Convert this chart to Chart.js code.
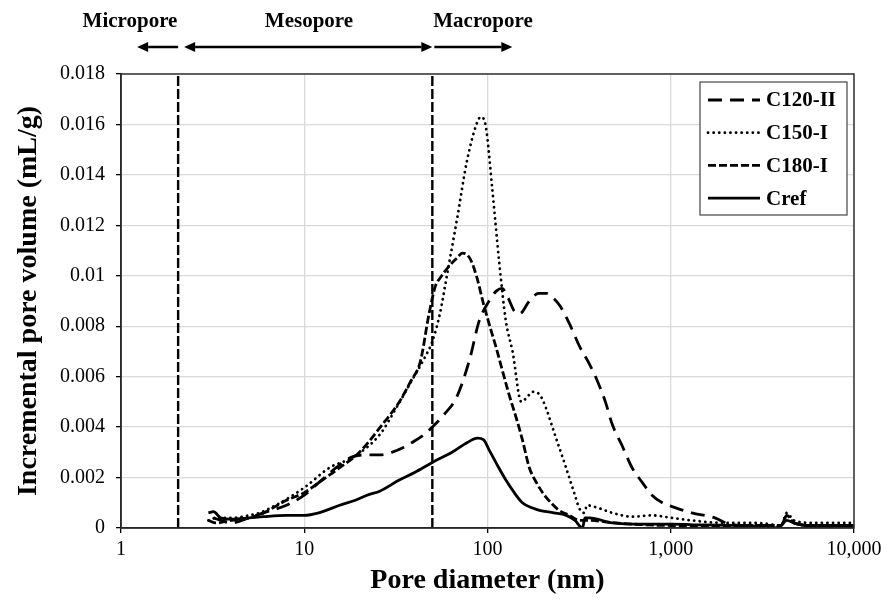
<!DOCTYPE html>
<html>
<head>
<meta charset="utf-8">
<script src="https://cdn.jsdelivr.net/npm/chart.js@4.4.1/dist/chart.umd.min.js"></script>
<style>
  html, body { margin: 0; padding: 0; background: #fff; }
  #wrap { width: 887px; height: 604px; }
</style>
</head>
<body>
<div id="wrap"><canvas id="poreChart" width="887" height="604"></canvas></div>
<script>
// pore diameter (nm) and incremental pore volume (mL/g)
const c120Diam = [3.2, 3.5, 4, 5, 6, 8, 10, 12, 15, 18, 22, 26, 30, 35, 39, 45, 50, 58, 68, 80, 90, 102, 112, 120, 130, 140, 150, 169, 190, 210, 230, 249, 280, 318, 360, 394, 440, 480, 540, 614, 700, 790, 900, 1065, 1300, 1740, 2000, 2500, 3500, 4000, 4300, 4700, 6000, 10000];
const c120Vol  = [0.0004, 0.0003, 0.0002, 0.0004, 0.0006, 0.0009, 0.0013, 0.0018, 0.0024, 0.0028, 0.0029, 0.0029, 0.003, 0.0032, 0.0034, 0.0037, 0.004, 0.0045, 0.0052, 0.0067, 0.0082, 0.009, 0.0094, 0.0095, 0.0091, 0.0086, 0.0085, 0.009, 0.0093, 0.0093, 0.0091, 0.0088, 0.0081, 0.0072, 0.0065, 0.0059, 0.005, 0.0041, 0.0033, 0.0024, 0.0018, 0.0013, 0.001, 0.0008, 0.0006, 0.0004, 0.0002, 0.0001, 0.0001, 0.0001, 0.0005, 0.0002, 0.0001, 0.0001];

const c150Diam = [3.0, 3.3, 4, 5, 5.7, 7.4, 10, 13.8, 18.4, 25.8, 32, 39, 45, 50, 55, 60, 68, 77, 87, 92, 98, 106, 116, 126, 137, 153, 165, 176, 192, 210, 226, 268, 300, 316, 336, 350, 400, 480, 612, 790, 1015, 1300, 2000, 3000, 4000, 4300, 4700, 6000, 10000];
const c150Vol  = [0.0003, 0.0004, 0.0004, 0.0005, 0.0006, 0.001, 0.0016, 0.0024, 0.0028, 0.0037, 0.0048, 0.0059, 0.0067, 0.0074, 0.0085, 0.01, 0.0122, 0.0145, 0.016, 0.0163, 0.0159, 0.0135, 0.0105, 0.0082, 0.007, 0.005, 0.0052, 0.0054, 0.0053, 0.0047, 0.004, 0.0024, 0.0013, 0.0008, 0.0006, 0.0009, 0.0008, 0.0006, 0.00045, 0.0005, 0.0004, 0.0003, 0.0002, 0.0002, 0.0001, 0.0006, 0.0003, 0.0002, 0.0002];

const c180Diam = [3.0, 3.3, 4, 5, 6, 8, 10, 12, 15, 20, 26, 33, 38, 43, 48, 52, 55, 62, 68, 73, 80, 87, 95, 102, 111, 120, 131, 143, 155, 169, 185, 200, 222, 246, 280, 318, 360, 500, 1000, 2000, 3000, 4000, 4300, 4700, 6000, 10000];
const c180Vol  = [0.0003, 0.0002, 0.0003, 0.0004, 0.0006, 0.0011, 0.0014, 0.0018, 0.0023, 0.003, 0.004, 0.005, 0.0058, 0.0066, 0.0085, 0.0096, 0.0099, 0.0104, 0.0107, 0.0109, 0.0107, 0.01, 0.0089, 0.0081, 0.0072, 0.0063, 0.0053, 0.0044, 0.0035, 0.0024, 0.0018, 0.0014, 0.001, 0.0007, 0.0005, 0.0003, 0.0003, 0.0002, 0.0001, 0.0001, 0.0001, 0.0001, 0.0005, 0.0002, 0.0001, 0.0001];

const crefDiam = [3.0, 3.2, 3.5, 4, 5, 6, 8, 10, 12, 15.6, 19, 22, 26, 33, 40, 50, 64, 78, 88, 95, 102, 115, 126, 140, 155, 175, 192, 230, 269, 300, 330, 340, 360, 480, 700, 1000, 1500, 2500, 3200, 3700, 4000, 4300, 4700, 5500, 7000, 10000];
const crefVol  = [0.0006, 0.00065, 0.0004, 0.00035, 0.0004, 0.00045, 0.0005, 0.0005, 0.0006, 0.0009, 0.0011, 0.0013, 0.00147, 0.0019, 0.0022, 0.0026, 0.003, 0.0034, 0.00356, 0.0035, 0.0031, 0.0024, 0.0019, 0.0014, 0.001, 0.0008, 0.0007, 0.0006, 0.0005, 0.0003, 0.0, 0.0004, 0.0004, 0.0002, 0.00015, 0.00015, 0.00012, 0.0001, 0.00005, 0.0, 0.0001, 0.0003, 0.0002, 0.0001, 0.0001, 0.0001];

// micro/meso and meso/macro limits (nm), as placed in the figure
const poreLimits = [2.05, 50];
const limitRange = [0, 0.018];

const seriesNames = ['C120-II', 'C150-I', 'C180-I', 'Cref'];
const xTicks = [1, 10, 100, 1000, 10000];
const yTicks = [0, 0.002, 0.004, 0.006, 0.008, 0.01, 0.012, 0.014, 0.016, 0.018];
const zoneLabels = ['Micropore', 'Mesopore', 'Macropore'];

const serif = "'Liberation Serif', 'Times New Roman', serif";

const toPts = (xs, ys) => xs.map((x, i) => ({x, y: ys[i]}));

function curve(label, xs, ys, dash, cap) {
  return {
    label, data: toPts(xs, ys),
    borderColor: '#000', borderWidth: 2.8,
    borderDash: dash, borderCapStyle: cap || 'butt',
    pointRadius: 0, fill: false,
    cubicInterpolationMode: 'monotone'
  };
}

const datasets = [
  curve(seriesNames[0], c120Diam, c120Vol, [14, 8]),
  curve(seriesNames[1], c150Diam, c150Vol, [0.1, 5.5], 'round'),
  curve(seriesNames[2], c180Diam, c180Vol, [8, 3]),
  curve(seriesNames[3], crefDiam, crefVol, []),
];
poreLimits.forEach(d => {
  datasets.push({
    label: '', isLimit: true,
    data: limitRange.map(v => ({x: d, y: v})),
    borderColor: '#000', borderWidth: 2.4, borderDash: [10, 3],
    pointRadius: 0, tension: 0, fill: false
  });
});

function arrow(ctx, x1, x2, y, headStart, headEnd) {
  const hl = 11, hw = 5;
  ctx.beginPath();
  ctx.moveTo(x1 + (headStart ? Math.sign(x2 - x1) * hl : 0), y);
  ctx.lineTo(x2 - (headEnd ? Math.sign(x2 - x1) * hl : 0), y);
  ctx.stroke();
  const head = (tip, dir) => {
    ctx.beginPath();
    ctx.moveTo(tip, y);
    ctx.lineTo(tip - dir * hl, y - hw);
    ctx.lineTo(tip - dir * hl, y + hw);
    ctx.closePath();
    ctx.fill();
  };
  if (headStart) head(x1, Math.sign(x1 - x2));
  if (headEnd) head(x2, Math.sign(x2 - x1));
}

// zone labels + arrows above the plot, border and boxed legend
const extras = {
  id: 'extras',
  afterDraw(chart) {
    const {ctx, chartArea: a, scales: {x}} = chart;
    ctx.save();

    ctx.strokeStyle = '#333';
    ctx.lineWidth = 1.5;
    ctx.strokeRect(a.left, a.top, a.right - a.left, a.bottom - a.top);

    const xMicro = x.getPixelForValue(poreLimits[0]);
    const xMacro = x.getPixelForValue(poreLimits[1]);
    ctx.fillStyle = '#000';
    ctx.font = `bold 21px ${serif}`;
    ctx.textAlign = 'center';
    ctx.textBaseline = 'middle';
    ctx.fillText(zoneLabels[0], 130, 22);
    ctx.fillText(zoneLabels[1], 309, 22);
    ctx.fillText(zoneLabels[2], 483, 22);

    ctx.strokeStyle = '#000';
    ctx.lineWidth = 2.5;
    arrow(ctx, xMicro - 41, xMicro, 47, true, false);
    arrow(ctx, xMicro + 6, xMacro, 47, true, true);
    arrow(ctx, xMacro + 2, xMacro + 80, 47, false, true);

    // legend
    const lx = 700, ly = 82, lw = 147, lh = 133;
    ctx.fillStyle = '#fff';
    ctx.fillRect(lx, ly, lw, lh);
    ctx.strokeStyle = '#444';
    ctx.lineWidth = 1.2;
    ctx.strokeRect(lx, ly, lw, lh);
    ctx.font = `bold 21px ${serif}`;
    ctx.textAlign = 'left';
    chart.data.datasets.filter(ds => !ds.isLimit).forEach((ds, i) => {
      const y = 100 + i * 32.7;
      ctx.strokeStyle = '#000';
      ctx.lineWidth = ds.borderWidth;
      ctx.setLineDash(ds.borderDash);
      ctx.lineCap = ds.borderCapStyle;
      ctx.beginPath();
      ctx.moveTo(708, y);
      ctx.lineTo(760, y);
      ctx.stroke();
      ctx.setLineDash([]);
      ctx.lineCap = 'butt';
      ctx.fillStyle = '#000';
      ctx.fillText(ds.label, 766, y + 1);
    });
    ctx.restore();
  }
};

new Chart(document.getElementById('poreChart'), {
  type: 'line',
  data: {datasets},
  options: {
    responsive: false,
    devicePixelRatio: 1,
    animation: false,
    layout: {padding: {top: 74, right: 33, left: 0, bottom: 0}},
    plugins: {
      legend: {display: false},
      tooltip: {enabled: false}
    },
    scales: {
      x: {
        type: 'logarithmic',
        min: 1, max: 10000,
        afterBuildTicks: s => { s.ticks = xTicks.map(v => ({value: v})); },
        afterFit: s => { s.height = 76; },
        ticks: {
          color: '#000', padding: 5, maxRotation: 0, autoSkip: false,
          font: {family: serif, size: 20},
          callback: v => v.toLocaleString('en-US')
        },
        grid: {color: '#d9d9d9', lineWidth: 1.3, tickLength: 5, tickColor: '#000'},
        border: {color: '#000', width: 1.5},
        title: {
          display: true, text: 'Pore diameter (nm)', color: '#000',
          font: {family: serif, size: 28, weight: 'bold'},
          padding: {top: 0, bottom: 6}
        }
      },
      y: {
        min: 0, max: 0.018,
        afterBuildTicks: s => { s.ticks = yTicks.map(v => ({value: v})); },
        afterFit: s => { s.width = 121; },
        ticks: {
          color: '#000', padding: 11,
          font: {family: serif, size: 20},
          callback: v => String(Number(v.toFixed(3)))
        },
        grid: {color: '#d9d9d9', lineWidth: 1.3, tickLength: 5, tickColor: '#000'},
        border: {color: '#000', width: 1.5},
        title: {
          display: true, text: 'Incremental pore volume (mL/g)', color: '#000',
          font: {family: serif, size: 28, weight: 'bold'},
          padding: {top: 12, bottom: 0}
        }
      }
    }
  },
  plugins: [extras]
});
</script>
</body>
</html>
